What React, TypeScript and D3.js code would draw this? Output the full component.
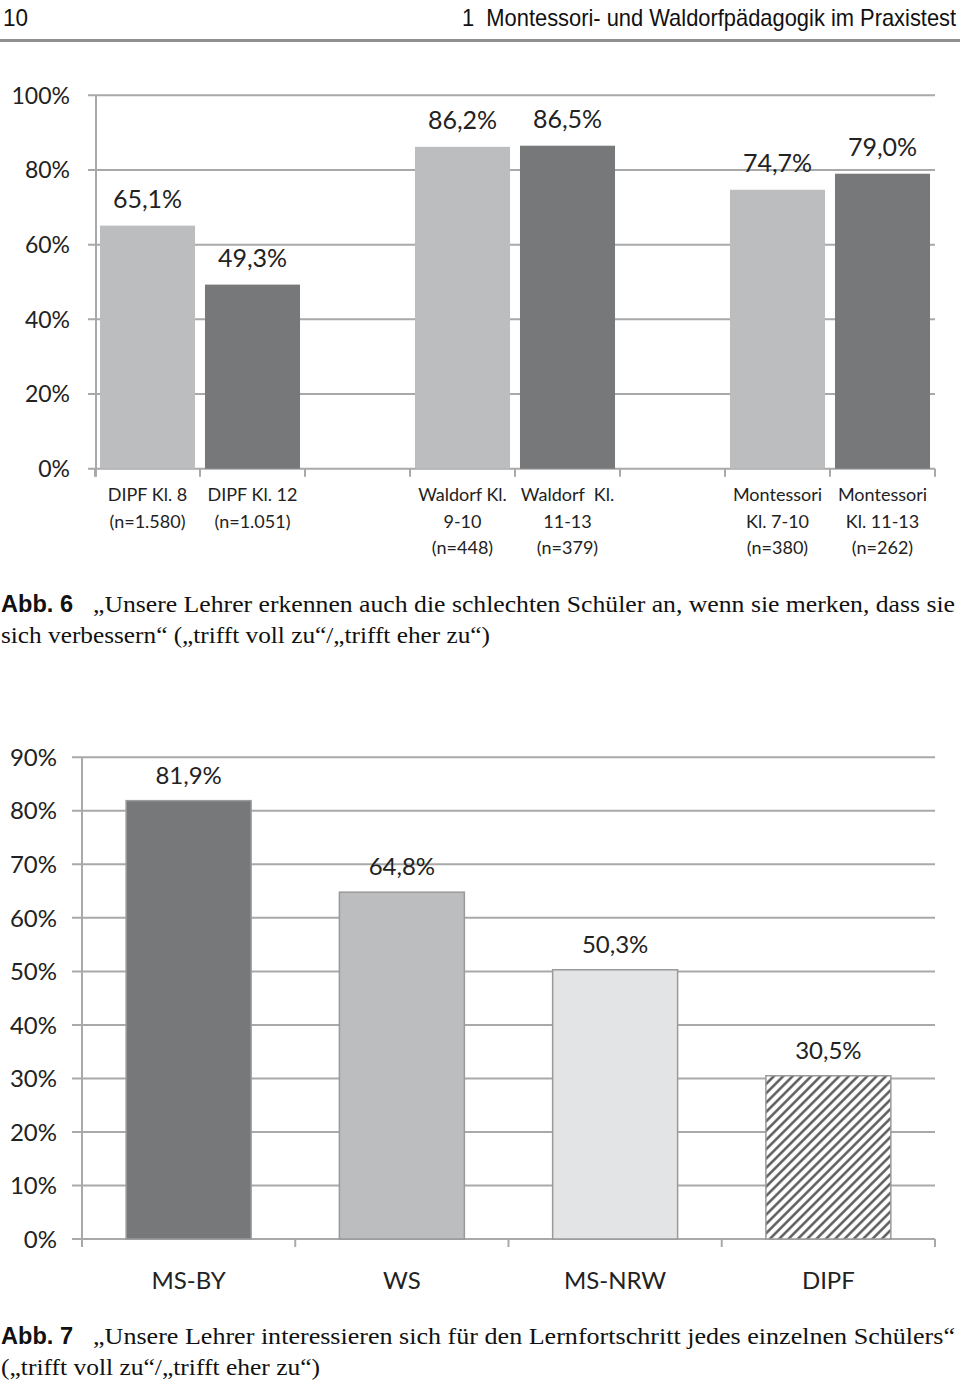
import React from "react";
import * as d3 from "d3";

// ---------- Data: Abb. 6 ----------
const topIds = ["dipf8", "dipf12", "gapA", "waldorf910", "waldorf1113", "gapB", "monte710", "monte1113"];
const topLabels: string[][] = [
  ["DIPF Kl. 8", "(n=1.580)"],
  ["DIPF Kl. 12", "(n=1.051)"],
  [],
  ["Waldorf Kl.", "9-10", "(n=448)"],
  ["Waldorf  Kl.", "11-13", "(n=379)"],
  [],
  ["Montessori", "Kl. 7-10", "(n=380)"],
  ["Montessori", "Kl. 11-13", "(n=262)"],
];
const topValues: (number | null)[] = [65.1, 49.3, null, 86.2, 86.5, null, 74.7, 79.0];
const topGrade = ["lower", "upper", "", "lower", "upper", "", "lower", "upper"];
const topTicks = [0, 20, 40, 60, 80, 100];

// ---------- Data: Abb. 7 ----------
const botCats = ["MS-BY", "WS", "MS-NRW", "DIPF"];
const botValues = [81.9, 64.8, 50.3, 30.5];
const botTicks = [0, 10, 20, 30, 40, 50, 60, 70, 80, 90];

const fmt = (v: number) => v.toFixed(1).replace(".", ",") + "%";

const chartFont = "Lato, 'Open Sans', sans-serif";
const serif = "'Liberation Serif', 'DejaVu Serif', serif";
const narrow = "'Liberation Sans Narrow', 'Liberation Sans', sans-serif";
const grid = "#a9a9a9";
const txt = "#222";

export default function App() {
  // Top chart scales
  const xTop = d3.scaleBand<string>().domain(topIds).range([95, 935]).paddingInner(0.095).paddingOuter(0.0475);
  const yTop = d3.scaleLinear().domain([0, 100]).range([468.7, 95.3]);
  const gradeColor = d3.scaleOrdinal<string, string>().domain(["lower", "upper"]).range(["#bcbdbf", "#77787a"]);
  const topBounds = d3.range(topIds.length + 1).map((i) => 95 + i * xTop.step());

  // Bottom chart scales
  const xBot = d3.scaleBand<string>().domain(botCats).range([82, 935]).paddingInner(0.414).paddingOuter(0.207);
  const yBot = d3.scaleLinear().domain([0, 90]).range([1239, 757.3]);
  const botFill = d3.scaleOrdinal<string, string>().domain(botCats).range(["#77787a", "#bcbdbf", "#e3e4e5", "url(#hatch)"]);
  const botBounds = d3.range(botCats.length + 1).map((i) => 82 + i * xBot.step());

  return (
    <svg width={960} height={1384} style={{ position: "absolute", left: 0, top: 0, background: "#fff" }}>
      <defs>
        <pattern id="hatch" patternUnits="userSpaceOnUse" width={6.6} height={6.6} patternTransform="rotate(45)">
          <rect width={6.6} height={6.6} fill="#fff" />
          <line x1={1.4} y1={0} x2={1.4} y2={6.6} stroke="#555" strokeWidth={2.4} />
        </pattern>
      </defs>

      {/* Header */}
      <text x={3} y={26} fontFamily={narrow} fontSize={23} fill="#111" textLength={25} lengthAdjust="spacingAndGlyphs">10</text>
      <text transform="translate(462,26) scale(0.952,1)" fontFamily={narrow} fontSize={23} fill="#111"
        style={{ whiteSpace: "pre" }}>1  Montessori- und Waldorfpädagogik im Praxistest</text>
      <rect x={0} y={39} width={960} height={3} fill="#8f8f8f" />

      {/* ---------- Top chart ---------- */}
      <g>
        {topTicks.map((t) => (
          <g key={t}>
            <line x1={88} x2={935} y1={yTop(t)} y2={yTop(t)} stroke={grid} strokeWidth={2} />
            <text x={70} y={yTop(t)} dy="0.36em" textAnchor="end" fontFamily={chartFont} fontSize={23} fill={txt}>{t}%</text>
          </g>
        ))}
        <line x1={96} x2={96} y1={yTop(100)} y2={yTop(0) + 8} stroke={grid} strokeWidth={2} />
        {topBounds.map((b, i) => (
          <line key={i} x1={b} x2={b} y1={yTop(0)} y2={yTop(0) + 8} stroke={grid} strokeWidth={2} />
        ))}
        {topIds.map((id, i) => {
          const v = topValues[i];
          if (v == null) return null;
          const x = xTop(id)!;
          return (
            <g key={id}>
              <rect x={x} y={yTop(v)} width={xTop.bandwidth()} height={yTop(0) - yTop(v)} fill={gradeColor(topGrade[i])} />
              <text x={x + xTop.bandwidth() / 2} y={yTop(v) - 18} textAnchor="middle" fontFamily={chartFont} fontSize={25} fill={txt}>{fmt(v)}</text>
            </g>
          );
        })}
        {topIds.map((id, i) =>
          topLabels[i].map((l, j) => (
            <text key={id + j} x={xTop(id)! + xTop.bandwidth() / 2} y={501 + j * 26.5} textAnchor="middle"
              fontFamily={chartFont} fontSize={18} fill={txt} style={{ whiteSpace: "pre" }}>{l}</text>
          ))
        )}
      </g>

      {/* Caption Abb. 6 */}
      <text x={1} y={612} fontFamily={narrow} fontWeight="bold" fontSize={24} fill="#111" textLength={72} lengthAdjust="spacingAndGlyphs">Abb. 6</text>
      <text x={93} y={612} fontFamily={serif} fontSize={24} fill="#111" textLength={862} lengthAdjust="spacingAndGlyphs">„Unsere Lehrer erkennen auch die schlechten Schüler an, wenn sie merken, dass sie</text>
      <text x={1} y={643} fontFamily={serif} fontSize={24} fill="#111" textLength={489} lengthAdjust="spacingAndGlyphs">sich verbessern“ („trifft voll zu“/„trifft eher zu“)</text>

      {/* ---------- Bottom chart ---------- */}
      <g>
        {botTicks.map((t) => (
          <g key={t}>
            <line x1={72} x2={935} y1={yBot(t)} y2={yBot(t)} stroke={grid} strokeWidth={2} />
            <text x={57} y={yBot(t)} dy="0.36em" textAnchor="end" fontFamily={chartFont} fontSize={24} fill={txt}>{t}%</text>
          </g>
        ))}
        <line x1={82} x2={82} y1={yBot(90)} y2={yBot(0) + 8} stroke={grid} strokeWidth={2} />
        {botBounds.map((b, i) => (
          <line key={i} x1={b} x2={b} y1={yBot(0)} y2={yBot(0) + 8} stroke={grid} strokeWidth={2} />
        ))}
        {botCats.map((c, i) => {
          const v = botValues[i];
          const x = xBot(c)!;
          return (
            <g key={c}>
              <rect x={x} y={yBot(v)} width={xBot.bandwidth()} height={yBot(0) - yBot(v)} fill={botFill(c)}
                stroke="#9a9a9a" strokeWidth={1.5} />
              <text x={x + xBot.bandwidth() / 2} y={yBot(v) - 17} textAnchor="middle" fontFamily={chartFont} fontSize={24} fill={txt}>{fmt(v)}</text>
              <text x={x + xBot.bandwidth() / 2} y={1289} textAnchor="middle" fontFamily={chartFont} fontSize={24} fill={txt}>{c}</text>
            </g>
          );
        })}
      </g>

      {/* Caption Abb. 7 */}
      <text x={1} y={1344} fontFamily={narrow} fontWeight="bold" fontSize={24} fill="#111" textLength={72} lengthAdjust="spacingAndGlyphs">Abb. 7</text>
      <text x={93} y={1344} fontFamily={serif} fontSize={24} fill="#111" textLength={862} lengthAdjust="spacingAndGlyphs">„Unsere Lehrer interessieren sich für den Lernfortschritt jedes einzelnen Schülers“</text>
      <text x={1} y={1375} fontFamily={serif} fontSize={24} fill="#111" textLength={319} lengthAdjust="spacingAndGlyphs">(„trifft voll zu“/„trifft eher zu“)</text>
    </svg>
  );
}
